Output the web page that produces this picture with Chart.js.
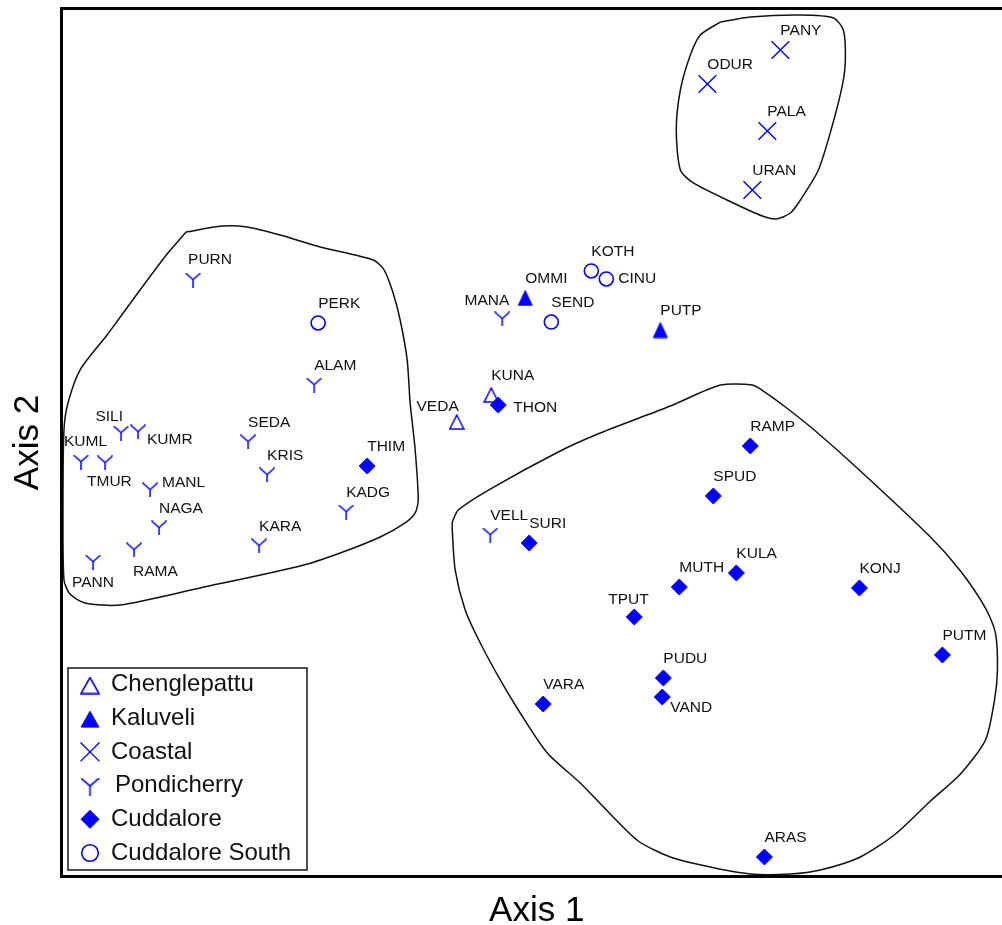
<!DOCTYPE html>
<html>
<head>
<meta charset="utf-8">
<script src="https://cdn.jsdelivr.net/npm/chart.js@4/dist/chart.umd.min.js"></script>
<style>
  html, body { margin: 0; padding: 0; background: #fff; overflow: hidden; }
  #wrap { width: 1002px; height: 925px; overflow: hidden; position: relative; }
  canvas { display: block; }
</style>
</head>
<body>
<div id="wrap"><canvas id="ord" width="1012" height="925"></canvas></div>
<script>
// Station codes and their scores on the two ordination axes, by region
const chenglepattuSites = ['KUNA', 'VEDA'];
const chenglepattuAxis1 = [45.21, 41.58];
const chenglepattuAxis2 = [55.47, 52.36];

const kaluveliSites = ['OMMI', 'PUTP'];
const kaluveliAxis1 = [48.79, 63.0];
const kaluveliAxis2 = [66.65, 62.96];

const coastalSites = ['PANY', 'ODUR', 'PALA', 'URAN'];
const coastalAxis1 = [75.63, 67.95, 74.26, 72.68];
const coastalAxis2 = [95.22, 91.30, 85.89, 79.09];

const pondicherrySites = ['PURN', 'MANA', 'ALAM', 'SILI', 'KUMR', 'KUML', 'TMUR', 'MANL',
  'SEDA', 'KRIS', 'NAGA', 'KADG', 'KARA', 'RAMA', 'PANN', 'VELL'];
const pondicherryAxis1 = [13.84, 46.37, 26.58, 6.26, 8.05, 2.05, 4.58, 9.32,
  19.63, 21.63, 10.26, 29.95, 20.79, 7.63, 3.32, 45.11];
const pondicherryAxis2 = [68.72, 64.23, 56.62, 51.09, 51.21, 47.75, 47.64, 44.53,
  50.06, 46.26, 40.15, 41.99, 38.08, 37.62, 36.23, 39.34];

const cuddaloreSites = ['THON', 'THIM', 'RAMP', 'SPUD', 'SURI', 'MUTH', 'KULA', 'KONJ',
  'TPUT', 'PUTM', 'PUDU', 'VAND', 'VARA', 'ARAS'];
const cuddaloreAxis1 = [45.95, 32.16, 72.47, 68.58, 49.21, 65.0, 71.0, 83.95,
  60.26, 92.68, 63.32, 63.21, 50.68, 73.95];
const cuddaloreAxis2 = [54.32, 47.29, 49.60, 43.84, 38.42, 33.35, 34.97, 33.24,
  29.90, 25.52, 22.87, 20.68, 19.87, 2.25];

const cuddaloreSouthSites = ['PERK', 'KOTH', 'CINU', 'SEND'];
const cuddaloreSouthAxis1 = [27.0, 55.74, 57.32, 51.53];
const cuddaloreSouthAxis2 = [63.77, 69.76, 68.84, 63.88];

// Outlines enclosing the three site clusters (axis units)
const pondicherryOutline = [
  [13.11, 74.25], [16.89, 74.94], [19.53, 74.83], [23.0, 73.91], [27.21, 72.52],
  [32.79, 71.03], [33.95, 69.87], [34.89, 67.22], [35.63, 64.11], [36.37, 59.50],
  [36.68, 54.55], [37.21, 49.14], [37.53, 43.38], [37.21, 41.88], [36.16, 40.73],
  [33.53, 39.11], [29.32, 37.27], [25.11, 35.77], [14.58, 33.24], [6.16, 31.28],
  [2.47, 31.51], [0.89, 32.55], [0.26, 34.16], [0.16, 43.38], [0.26, 51.44],
  [0.68, 54.55], [1.95, 58.35], [4.79, 62.38], [5.95, 64.11], [8.26, 67.57],
  [11.11, 71.72], [13.11, 74.25]
];
const coastalOutline = [
  [69.32, 98.44], [72.47, 99.02], [77.74, 99.25], [81.21, 98.91], [82.26, 97.52],
  [82.47, 94.07], [82.16, 91.19], [81.11, 86.58], [79.63, 81.39], [77.74, 77.94],
  [76.68, 76.44], [75.21, 75.75], [73.74, 76.09], [70.68, 77.59], [66.47, 79.90],
  [65.11, 81.39], [64.68, 86.0], [65.11, 90.61], [66.16, 94.64], [67.21, 96.95],
  [69.32, 98.44]
];
const cuddaloreOutline = [
  [41.11, 40.84], [41.74, 42.22], [45.11, 44.64], [52.26, 48.91], [56.68, 51.09],
  [64.05, 54.20], [69.32, 56.62], [72.68, 56.62], [73.84, 55.93], [76.16, 54.09],
  [79.32, 51.32], [84.05, 46.72], [91.42, 39.11], [94.58, 35.20], [97.21, 30.93],
  [98.26, 28.05], [98.47, 23.79], [98.16, 20.33], [97.21, 15.73], [94.58, 11.81],
  [91.42, 8.70], [87.74, 4.90], [84.05, 2.25], [79.84, 0.75], [76.68, 0.29],
  [72.47, 0.29], [68.26, 1.09], [64.05, 2.25], [60.68, 4.09], [57.63, 7.32],
  [54.58, 10.77], [51.11, 14.23], [48.26, 18.84], [46.16, 22.64], [43.95, 27.13],
  [42.47, 30.70], [41.42, 35.31], [41.11, 39.92], [41.11, 40.84]
];

// Where each station code sits relative to its marker: [dx, dy, align]
const labelPlacement = {
  VEDA: [2, -15, 'right'], MANA: [7, -18, 'right'], SILI: [2, -16, 'right'],
  KUMR: [9, 8, 'left'], KUML: [-17, -20, 'left'], TMUR: [-18, 19, 'left'],
  MANL: [12, -7, 'left'], RAMA: [-1, 22, 'left'], PANN: [-21, 21, 'left'],
  CINU: [12, 0, 'left'], THON: [15, 3, 'left'], TPUT: [-26, -17, 'left'],
  VAND: [8, 11, 'left'], PURN: [-5, -20, 'left']
};
const defaultPlacement = [0, -19, 'left'];

const BLUE = '#0000ff';
const FONT = '"Liberation Sans", Arial, sans-serif';

// "Y" shaped marker used for the Pondicherry sites
function makeYMarker(w, h, lw) {
  const c = document.createElement('canvas');
  c.width = w; c.height = h;
  const g = c.getContext('2d');
  const mx = w / 2, my = h * 0.47;
  g.strokeStyle = BLUE;
  g.lineWidth = lw;
  g.beginPath();
  g.moveTo(0.5, 0.5); g.lineTo(mx, my);
  g.lineTo(w - 0.5, 0.5);
  g.moveTo(mx, my); g.lineTo(mx, h);
  g.stroke();
  return c;
}

// Upright triangle marker, open or filled
function makeTriangle(w, h, filled, lw) {
  const c = document.createElement('canvas');
  c.width = w + 2; c.height = h + 2;
  const g = c.getContext('2d');
  g.beginPath();
  g.moveTo(c.width / 2, 1);
  g.lineTo(c.width - 1, c.height - 1);
  g.lineTo(1, c.height - 1);
  g.closePath();
  if (filled) {
    g.fillStyle = BLUE;
    g.fill();
  }
  g.strokeStyle = BLUE;
  g.lineWidth = lw;
  g.stroke();
  return c;
}

const yMarker = makeYMarker(16, 15, 1.5);
const yMarkerLegend = makeYMarker(19, 18, 1.6);
const openTri = makeTriangle(14, 14, false, 1.5);
const openTriLegend = makeTriangle(18, 16, false, 1.6);
const solidTri = makeTriangle(14, 15, true, 1);
const solidTriLegend = makeTriangle(18, 16, true, 1);

function points(xs, ys) {
  return xs.map((x, i) => ({ x: x, y: ys[i] }));
}
function outline(pairs) {
  return pairs.map(p => ({ x: p[0], y: p[1] }));
}

const groups = [
  { label: 'Chenglepattu', sites: chenglepattuSites, xs: chenglepattuAxis1, ys: chenglepattuAxis2,
    pointStyle: openTri, radius: 8, fill: 'rgba(0,0,0,0)', bw: 1.4, order: 3,
    legend: { style: openTriLegend, radius: 9, dy: 1 } },
  { label: 'Kaluveli', sites: kaluveliSites, xs: kaluveliAxis1, ys: kaluveliAxis2,
    pointStyle: solidTri, radius: 8, fill: BLUE, bw: 1, order: 2,
    legend: { style: solidTriLegend, radius: 9, dy: 1 } },
  { label: 'Coastal', sites: coastalSites, xs: coastalAxis1, ys: coastalAxis2,
    pointStyle: 'crossRot', radius: 12.5, fill: BLUE, bw: 1.4, order: 2,
    legend: { style: 'crossRot', radius: 13.4, dy: 0 } },
  { label: 'Pondicherry', sites: pondicherrySites, xs: pondicherryAxis1, ys: pondicherryAxis2,
    pointStyle: yMarker, radius: 8, fill: BLUE, bw: 0, order: 2,
    legend: { style: yMarkerLegend, radius: 9, dy: 1 } },
  { label: 'Cuddalore', sites: cuddaloreSites, xs: cuddaloreAxis1, ys: cuddaloreAxis2,
    pointStyle: 'rectRot', radius: 8, fill: BLUE, bw: 1, order: 0,
    legend: { style: 'rectRot', radius: 9, dy: 0 } },
  { label: 'Cuddalore South', sites: cuddaloreSouthSites, xs: cuddaloreSouthAxis1, ys: cuddaloreSouthAxis2,
    pointStyle: 'circle', radius: 7, fill: 'rgba(0,0,0,0)', bw: 1.6, order: 1,
    legend: { style: 'circle', radius: 8.3, dy: 0 } }
];

const siteDatasets = groups.map(g => ({
  label: g.label,
  siteNames: g.sites,
  legendMarker: g.legend,
  data: points(g.xs, g.ys),
  pointStyle: g.pointStyle,
  pointRadius: g.radius,
  pointHoverRadius: g.radius,
  pointBackgroundColor: g.fill,
  pointBorderColor: BLUE,
  pointBorderWidth: g.bw,
  showLine: false,
  clip: false,
  order: g.order
}));

const outlineDatasets = [pondicherryOutline, coastalOutline, cuddaloreOutline].map(o => ({
  label: '',
  data: outline(o),
  showLine: true,
  borderColor: '#111',
  borderWidth: 1.5,
  tension: 0.25,
  pointRadius: 0,
  fill: false,
  clip: false,
  order: 10
}));

// Station codes next to each marker
const siteLabels = {
  id: 'siteLabels',
  afterDatasetsDraw(chart) {
    const ctx = chart.ctx;
    ctx.save();
    ctx.font = '15.5px ' + FONT;
    ctx.fillStyle = '#111';
    ctx.textBaseline = 'middle';
    chart.data.datasets.forEach((ds, i) => {
      if (!ds.siteNames) return;
      const meta = chart.getDatasetMeta(i);
      meta.data.forEach((el, j) => {
        const name = ds.siteNames[j];
        const p = labelPlacement[name] || defaultPlacement;
        ctx.textAlign = p[2];
        ctx.fillText(name, el.x + p[0], el.y + p[1]);
      });
    });
    ctx.restore();
  }
};

// Plot frame and boxed legend in the lower-left corner
const frameAndLegend = {
  id: 'frameAndLegend',
  afterDraw(chart) {
    const ctx = chart.ctx;
    const a = chart.chartArea;
    ctx.save();
    ctx.strokeStyle = '#000';
    ctx.lineWidth = 3;
    ctx.strokeRect(a.left, a.top, a.right - a.left, a.bottom - a.top);

    const box = { x: 68, y: 668, w: 239, h: 202 };
    ctx.fillStyle = '#fff';
    ctx.fillRect(box.x, box.y, box.w, box.h);
    ctx.lineWidth = 1.6;
    ctx.strokeStyle = '#222';
    ctx.strokeRect(box.x, box.y, box.w, box.h);

    ctx.font = '24px ' + FONT;
    ctx.textBaseline = 'middle';
    ctx.textAlign = 'left';
    const sites = chart.data.datasets.filter(ds => ds.siteNames);
    sites.forEach((ds, i) => {
      const cy = 684.5 + i * 33.7;
      const m = ds.legendMarker;
      ctx.fillStyle = ds.pointBackgroundColor;
      ctx.strokeStyle = BLUE;
      ctx.lineWidth = ds.pointBorderWidth || 1;
      Chart.helpers.drawPoint(ctx, {
        pointStyle: m.style, radius: m.radius, rotation: 0,
        borderWidth: ds.pointBorderWidth
      }, 90, cy + m.dy);
      ctx.fillStyle = '#111';
      const tx = ds.label === 'Pondicherry' ? 115 : 111;
      ctx.fillText(ds.label, tx, cy);
    });
    ctx.restore();
  }
};

new Chart(document.getElementById('ord'), {
  type: 'scatter',
  data: { datasets: siteDatasets.concat(outlineDatasets) },
  options: {
    responsive: false,
    animation: false,
    events: [],
    layout: { autoPadding: false, padding: { top: 8.5, left: 0, right: 0, bottom: 0 } },
    plugins: { legend: { display: false }, tooltip: { enabled: false } },
    scales: {
      x: {
        type: 'linear', min: 0, max: 100,
        grid: { display: false, drawTicks: false },
        border: { display: false },
        ticks: { display: false },
        title: {
          display: true, text: 'Axis 1', color: '#000',
          font: { family: FONT, size: 35, lineHeight: 0.8 },
          padding: { top: 20.5, bottom: 0 }
        }
      },
      y: {
        type: 'linear', min: 0, max: 100,
        grid: { display: false, drawTicks: false },
        border: { display: false },
        ticks: { display: false },
        title: {
          display: true, text: 'Axis 2', color: '#000',
          font: { family: FONT, size: 35, lineHeight: 0.8 },
          padding: { top: 14, bottom: 19.5 }
        }
      }
    }
  },
  plugins: [siteLabels, frameAndLegend]
});
</script>
</body>
</html>
